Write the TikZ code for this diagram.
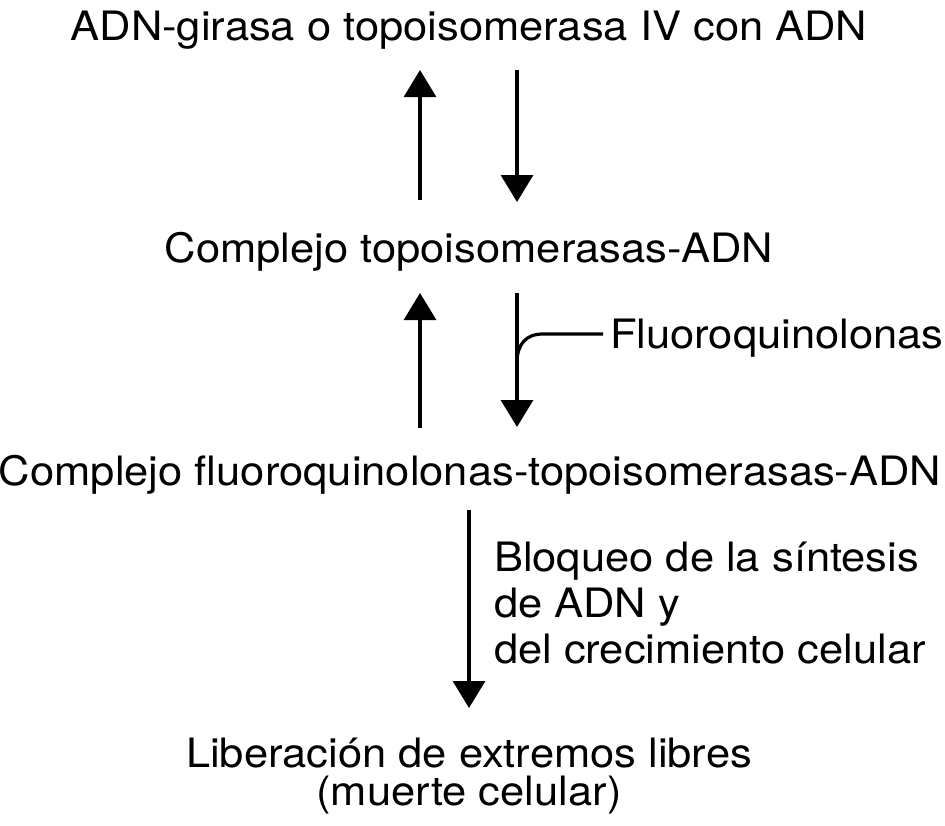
\documentclass[tikz,border=0pt]{standalone}
\usepackage{fontspec}
\setmainfont{TeX Gyre Heros}[FakeStretch=1.074]
\usetikzlibrary{arrows.meta}
\begin{document}
\begin{tikzpicture}[x=1pt,y=-1pt,
  txt/.style={inner sep=0pt,outer sep=0pt,text height=29pt,text depth=9pt,font=\fontsize{40.5}{46}\selectfont},
  lbl/.style={inner sep=0pt,outer sep=0pt,align=left,font=\fontsize{40.5}{46}\selectfont},
  arr/.style={line width=3.2pt,-{Triangle[length=27pt,width=32pt]}},
  ln/.style={line width=3.2pt}]
\useasboundingbox (0,0) rectangle (945,825);
\coordinate (xL) at (420,0);
\coordinate (xR) at (517,0);
\coordinate (xM) at (469,0);
\node[txt,anchor=base] (t1) at (469,40) {ADN-girasa o topoisomerasa IV con ADN};
\node[txt,anchor=base] (t2) at (469,262) {Complejo topoisomerasas-ADN};
\node[txt,anchor=base] (t3) at (470,485) {Complejo fluoroquinolonas-topoisomerasas-ADN};
\node[txt,anchor=base] (t4) at (469,767) {Liberación de extremos libres};
\node[txt,anchor=base] (t5) at (469,805) {(muerte celular)};
\node[txt,anchor=base west] (fq) at (610,348) {Fluoroquinolonas};
\node[lbl,anchor=north west] (bl) at (494,542) {Bloqueo de la síntesis\\de ADN y\\del crecimiento celular};
% arrows
\draw[arr,shorten <=33pt,shorten >=21pt] (t2.north -| xL) -- (t1.south -| xL);
\draw[arr,shorten <=21pt,shorten >=31pt] (t1.south -| xR) -- (t2.north -| xR);
\draw[arr,shorten <=28pt,shorten >=22pt] (t3.north -| xL) -- (t2.south -| xL);
\draw[arr,shorten <=22pt,shorten >=29pt] (t2.south -| xR) -- (t3.north -| xR);
\draw[arr,shorten <=16pt,shorten >=30pt] (t3.south -| xM) -- (t4.north -| xM);
% branch
\draw[ln] ([xshift=-7pt,yshift=4pt]fq.west) -- (543,334) .. controls (526,334) and (517,344) .. (517,363);
\end{tikzpicture}
\end{document}
